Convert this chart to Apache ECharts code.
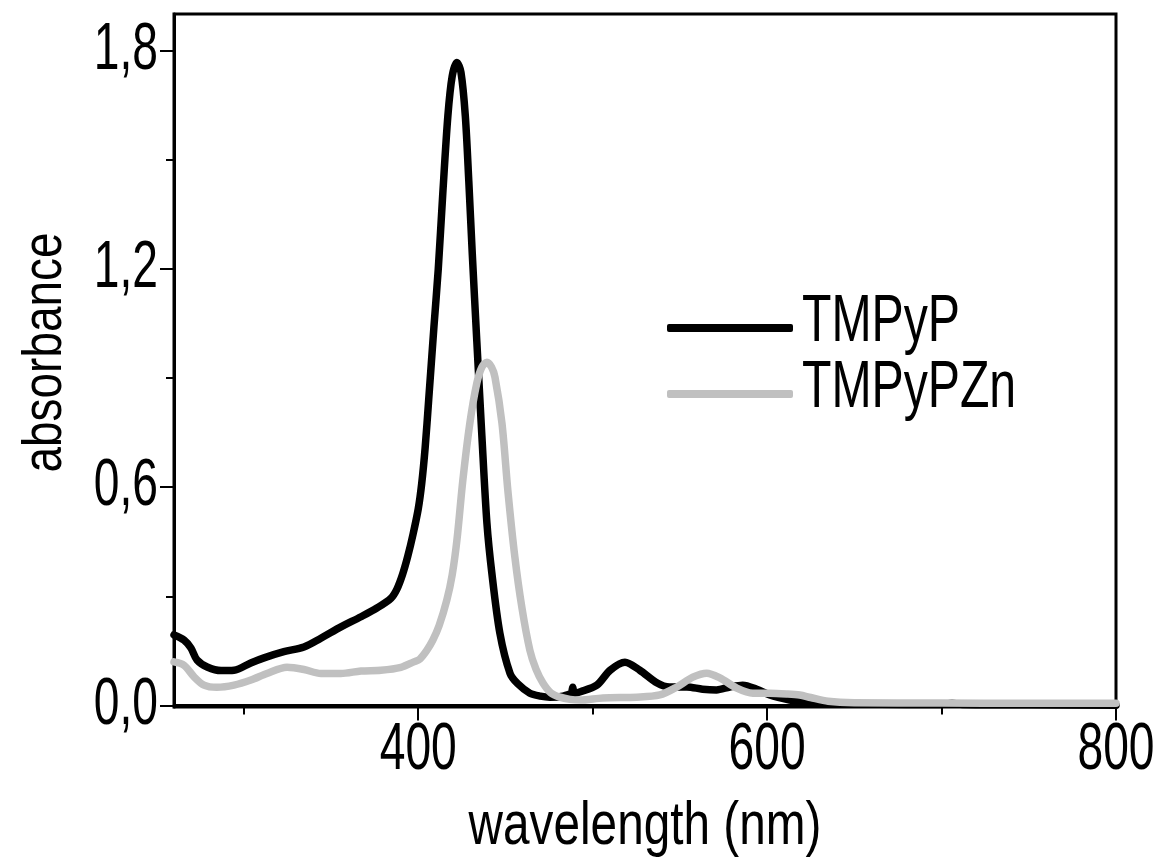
<!DOCTYPE html>
<html>
<head>
<meta charset="utf-8">
<script src="https://cdn.jsdelivr.net/npm/echarts@6/dist/echarts.min.js"></script>
<style>
html,body{margin:0;padding:0;background:#fff;}
#chart{width:1165px;height:866px;}
</style>
</head>
<body>
<div id="chart"></div>
<script>
// ---- data ----
const seriesNames = ['TMPyP', 'TMPyPZn'];

const tmpypNm = [260, 265.7, 269.7, 273.2, 279, 287, 294.4, 304, 311.6, 323, 334.5, 344.2, 355.7, 367.2, 376.3, 384.4, 387.8, 391, 394, 397, 400, 402, 404, 406, 409, 411.5, 414, 417, 419.5, 422.2, 424.5, 427, 429, 431, 433.6, 436.5, 439.4, 442.2, 446.8, 452.6, 457, 464, 470, 475.5, 481, 486, 487.8, 488.6, 489.5, 493, 502.4, 510, 518.5, 527, 537, 544, 554, 563, 571, 578.6, 586, 594, 601.5, 613, 620, 630, 650, 680, 700, 706, 712, 750, 800];
const tmpypAbs = [0.194, 0.18, 0.158, 0.125, 0.106, 0.096, 0.097, 0.117, 0.131, 0.148, 0.161, 0.185, 0.216, 0.244, 0.268, 0.295, 0.32, 0.36, 0.41, 0.47, 0.54, 0.61, 0.71, 0.84, 1.04, 1.2, 1.40, 1.62, 1.73, 1.767, 1.74, 1.62, 1.44, 1.24, 1.0, 0.74, 0.50, 0.364, 0.199, 0.089, 0.06, 0.034, 0.026, 0.023, 0.024, 0.03, 0.034, 0.05, 0.034, 0.038, 0.056, 0.097, 0.119, 0.097, 0.062, 0.051, 0.051, 0.045, 0.043, 0.051, 0.056, 0.045, 0.029, 0.015, 0.01, 0.006, 0.004, 0.003, 0.003, 0.006, 0.003, 0.002, 0.001];

const zincNm = [260, 265.7, 271.5, 277.2, 284.6, 294.4, 304.1, 313.3, 324.8, 334.5, 344.2, 355.7, 367.2, 378.6, 390.1, 397.5, 401, 405, 408.4, 412, 416.4, 419.5, 422.2, 425.6, 429.6, 433.6, 436.5, 439.4, 442, 444, 448, 451.4, 455.4, 459.4, 464, 467.5, 471.5, 476, 481.2, 487, 492.7, 505.8, 525.3, 538.5, 548.3, 557.4, 565.4, 572.9, 582.6, 591.8, 601.5, 611.3, 618.7, 625, 635, 650, 700, 750, 800];
const zincAbs = [0.12, 0.111, 0.079, 0.056, 0.05, 0.056, 0.07, 0.088, 0.105, 0.099, 0.088, 0.088, 0.095, 0.097, 0.105, 0.12, 0.128, 0.152, 0.18, 0.22, 0.29, 0.36, 0.455, 0.62, 0.776, 0.886, 0.93, 0.943, 0.93, 0.902, 0.776, 0.59, 0.408, 0.27, 0.152, 0.1, 0.062, 0.035, 0.023, 0.017, 0.015, 0.021, 0.023, 0.029, 0.051, 0.078, 0.089, 0.076, 0.048, 0.034, 0.034, 0.032, 0.029, 0.022, 0.012, 0.008, 0.007, 0.006, 0.006];

const xMajorTicks = [400, 600, 800];
const xMinorTicks = [300, 500, 700];
const yMajorTicks = [0, 0.6, 1.2, 1.8];
const yMinorTicks = [0.3, 0.9, 1.5];

const xName = 'wavelength (nm)';
const yName = 'absorbance';

// ---- chart ----
const FONT = '"Liberation Sans", Arial, sans-serif';
const zip = (a, b) => a.map((v, i) => [v, b[i]]);
const fmtY = v => v.toFixed(1).replace('.', ',');

const chart = echarts.init(document.getElementById('chart'), null, {renderer: 'canvas'});

const X_MIN = 260, X_MAX = 800, Y_MIN = -0.004, Y_MAX = 1.9;
const baseX = {type: 'value', min: X_MIN, max: X_MAX, gridIndex: 0, splitLine: {show: false}};
const baseY = {type: 'value', min: Y_MIN, max: Y_MAX, gridIndex: 0, splitLine: {show: false}};

chart.setOption({
  backgroundColor: '#fff',
  animation: false,
  grid: {left: 174, right: 49, top: 14, bottom: 159, containLabel: false, outerBoundsMode: 'none',
         show: true, borderColor: '#000', borderWidth: 3, backgroundColor: 'transparent'},
  legend: {
    orient: 'vertical', left: 662, top: 319,
    itemWidth: 126, itemHeight: 8, itemGap: 58,
    icon: 'roundRect',
    formatter: () => '',
    textStyle: {fontFamily: FONT, fontSize: 1, lineHeight: 1, color: '#000'},
    data: seriesNames
  },
  xAxis: [
    Object.assign({}, baseX, {
      axisLine: {show: true, lineStyle: {color: '#000', width: 3}},
      axisTick: {show: true, customValues: xMajorTicks, length: 15, lineStyle: {color: '#000', width: 2}},
      axisLabel: {show: false}
    }),
    Object.assign({}, baseX, {
      position: 'bottom',
      axisLine: {show: false},
      axisTick: {show: true, customValues: xMinorTicks, length: 9, lineStyle: {color: '#000', width: 2}},
      axisLabel: {show: false}
    })
  ],
  yAxis: [
    Object.assign({}, baseY, {
      axisLine: {show: true, lineStyle: {color: '#000', width: 3}},
      axisTick: {show: true, customValues: yMajorTicks, length: 14, lineStyle: {color: '#000', width: 2}},
      axisLabel: {show: false}
    }),
    Object.assign({}, baseY, {
      position: 'left',
      axisLine: {show: false},
      axisTick: {show: true, customValues: yMinorTicks, length: 8, lineStyle: {color: '#000', width: 2}},
      axisLabel: {show: false}
    })
  ],
  series: [
    {
      name: seriesNames[0], type: 'line', xAxisIndex: 0, yAxisIndex: 0,
      data: zip(tmpypNm, tmpypAbs), showSymbol: false, smooth: 0.3,
      color: '#000',
      lineStyle: {color: '#000', width: 7.5, cap: 'round', join: 'round'}
    },
    {
      name: seriesNames[1], type: 'line', xAxisIndex: 0, yAxisIndex: 0,
      data: zip(zincNm, zincAbs), showSymbol: false, smooth: 0.3,
      color: '#c0c0c0',
      lineStyle: {color: '#c0c0c0', width: 7.5, cap: 'round', join: 'round'}
    }
  ]
});

// ---- condensed text labels placed through the axis scales ----
const px = v => chart.convertToPixel({xAxisIndex: 0}, v);
const py = v => chart.convertToPixel({yAxisIndex: 0}, v);
const gLeft = px(X_MIN), gRight = px(X_MAX), gBottom = py(Y_MIN), gTop = py(Y_MAX);

function label(text, x, y, style, el) {
  return Object.assign({
    type: 'text', x: x, y: y, silent: true,
    style: Object.assign({
      text: text, fill: '#000', fontFamily: FONT, fontSize: 66,
      align: 'center', verticalAlign: 'middle'
    }, style || {})
  }, el || {});
}

const graphics = [];
xMajorTicks.forEach(v => {
  graphics.push(label(String(v), px(v), gBottom + 44, {}, {scaleX: 0.7}));
});
yMajorTicks.forEach(v => {
  graphics.push(label(fmtY(v), gLeft - 16, py(v), {align: 'right'}, {scaleX: 0.7}));
});
// axis names
const xc = (gLeft + gRight) / 2;
graphics.push(label(xName, xc, gBottom + 120, {fontSize: 62}, {scaleX: 0.77}));
const yc = (gTop + gBottom) / 2 - 8;
graphics.push(label(yName, 46, yc, {fontSize: 56}, {rotation: Math.PI / 2, scaleX: 0.82}));
// legend names
seriesNames.forEach((n, i) => {
  graphics.push(label(n, 802, 323 + i * 66, {align: 'left', fontSize: 66}, {scaleX: 0.73}));
});
chart.setOption({graphic: graphics});
</script>
</body>
</html>
